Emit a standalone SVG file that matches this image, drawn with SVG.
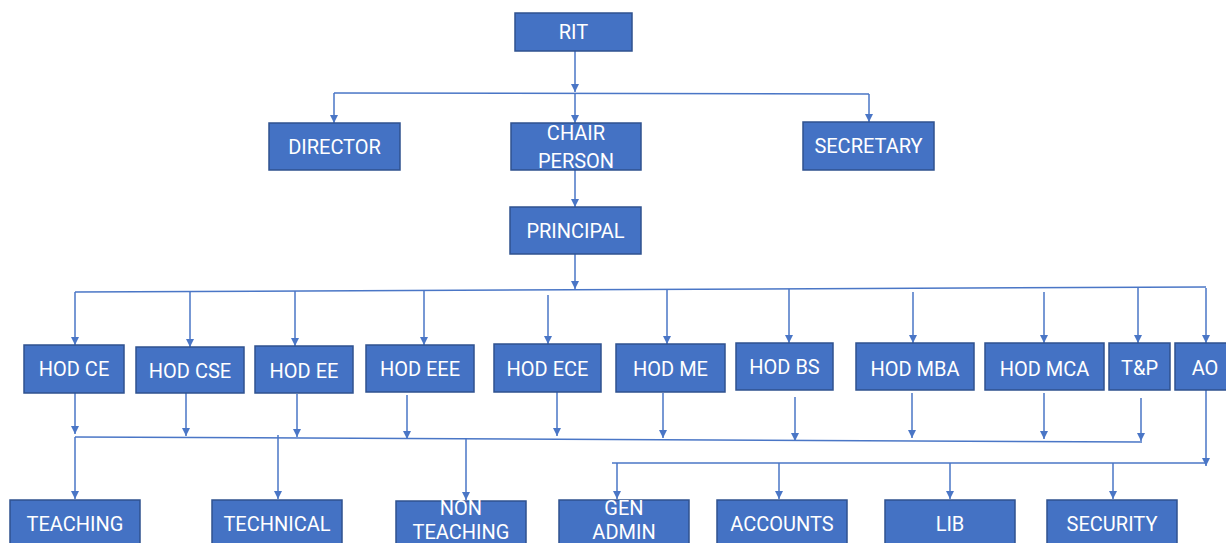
<svg xmlns="http://www.w3.org/2000/svg" width="1226" height="543" viewBox="0 0 1226 543">
<style>
.n rect{fill:#4472C4;stroke:#2F528F;stroke-width:1.5}
.n text{fill:#ffffff;font-family:Roboto,"Liberation Sans",Arial,sans-serif;font-size:20px;text-anchor:middle}
.c line{stroke:#4A76C6;stroke-width:1.5;fill:none}
.a{marker-end:url(#ah)}
</style>
<defs>
<marker id="ah" markerWidth="8" markerHeight="8" viewBox="0 0 8 8" refX="8" refY="4" orient="auto" markerUnits="userSpaceOnUse">
<path d="M0,0 L8,4 L0,8 z" fill="#4A76C6"/>
</marker>
</defs>
<g class="c" id="connectors">
<line class="a" x1="575" y1="51" x2="575" y2="92"/>
<line x1="334" y1="93" x2="869" y2="94"/>
<line class="a" x1="334" y1="93" x2="334" y2="123"/>
<line class="a" x1="575" y1="93" x2="575" y2="123"/>
<line class="a" x1="869" y1="94" x2="869" y2="122"/>
<line class="a" x1="575" y1="170" x2="575" y2="207"/>
<line class="a" x1="575" y1="254" x2="575" y2="289"/>
<line x1="75" y1="292" x2="1206" y2="287"/>
<line class="a" x1="75" y1="292" x2="75" y2="345"/>
<line class="a" x1="190" y1="292" x2="190" y2="347"/>
<line class="a" x1="295" y1="291" x2="295" y2="346"/>
<line class="a" x1="424" y1="291" x2="424" y2="345"/>
<line class="a" x1="548" y1="295" x2="548" y2="344"/>
<line class="a" x1="667" y1="290" x2="667" y2="344"/>
<line class="a" x1="789" y1="289" x2="789" y2="343"/>
<line class="a" x1="913" y1="292" x2="913" y2="343"/>
<line class="a" x1="1044" y1="292" x2="1044" y2="343"/>
<line class="a" x1="1138" y1="288" x2="1138" y2="343"/>
<line class="a" x1="1206" y1="288" x2="1206" y2="343"/>
<line class="a" x1="75" y1="393" x2="75" y2="434"/>
<line class="a" x1="186" y1="393" x2="186" y2="436"/>
<line class="a" x1="297" y1="394" x2="297" y2="437"/>
<line class="a" x1="407" y1="395" x2="407" y2="439"/>
<line class="a" x1="557" y1="392" x2="557" y2="436"/>
<line class="a" x1="663" y1="393" x2="663" y2="438"/>
<line class="a" x1="795" y1="397" x2="795" y2="441"/>
<line class="a" x1="912" y1="393" x2="912" y2="438"/>
<line class="a" x1="1044" y1="393" x2="1044" y2="439"/>
<line class="a" x1="1141" y1="398" x2="1141" y2="441"/>
<line x1="75" y1="437" x2="1142" y2="442"/>
<line class="a" x1="75" y1="437" x2="75" y2="499"/>
<line class="a" x1="278" y1="435" x2="278" y2="499"/>
<line class="a" x1="466" y1="438" x2="466" y2="500"/>
<line class="a" x1="1206" y1="390" x2="1206" y2="466"/>
<line x1="612" y1="463" x2="1206" y2="463"/>
<line class="a" x1="617" y1="463" x2="617" y2="499"/>
<line class="a" x1="779" y1="463" x2="779" y2="499"/>
<line class="a" x1="950" y1="463" x2="950" y2="499"/>
<line class="a" x1="1113" y1="463" x2="1113" y2="499"/>
</g>
<g class="n" id="rit"><rect x="515" y="13" width="117" height="38"/><text x="573.5" y="39">RIT</text></g>
<g class="n" id="director"><rect x="269" y="123" width="131" height="47"/><text x="334.5" y="154">DIRECTOR</text></g>
<g class="n" id="chairperson"><rect x="511" y="123" width="130" height="47"/><text x="576" y="140">CHAIR</text><text x="576" y="168">PERSON</text></g>
<g class="n" id="secretary"><rect x="803" y="122" width="131" height="48"/><text x="868.5" y="153">SECRETARY</text></g>
<g class="n" id="principal"><rect x="510" y="207" width="131" height="47"/><text x="575.5" y="238">PRINCIPAL</text></g>
<g class="n" id="hodce"><rect x="24" y="345" width="100" height="48"/><text x="74" y="376">HOD CE</text></g>
<g class="n" id="hodcse"><rect x="136" y="347" width="108" height="46"/><text x="190" y="378">HOD CSE</text></g>
<g class="n" id="hodee"><rect x="255" y="346" width="98" height="47"/><text x="304" y="378">HOD EE</text></g>
<g class="n" id="hodeee"><rect x="366" y="345" width="108" height="47"/><text x="420" y="376">HOD EEE</text></g>
<g class="n" id="hodece"><rect x="494" y="344" width="107" height="48"/><text x="547.5" y="376">HOD ECE</text></g>
<g class="n" id="hodme"><rect x="616" y="344" width="109" height="48"/><text x="670.5" y="376">HOD ME</text></g>
<g class="n" id="hodbs"><rect x="736" y="343" width="97" height="47"/><text x="784.5" y="374">HOD BS</text></g>
<g class="n" id="hodmba"><rect x="856" y="343" width="118" height="47"/><text x="915" y="376">HOD MBA</text></g>
<g class="n" id="hodmca"><rect x="985" y="343" width="119" height="47"/><text x="1044.5" y="376">HOD MCA</text></g>
<g class="n" id="tp"><rect x="1109" y="343" width="61" height="47"/><text x="1139.5" y="375">T&amp;P</text></g>
<g class="n" id="ao"><rect x="1175" y="343" width="60" height="47"/><text x="1205" y="375">AO</text></g>
<g class="n" id="teaching"><rect x="10" y="500" width="130" height="60"/><text x="75" y="531">TEACHING</text></g>
<g class="n" id="technical"><rect x="212" y="500" width="130" height="60"/><text x="277" y="531">TECHNICAL</text></g>
<g class="n" id="nonteaching"><rect x="396" y="501" width="130" height="60"/><text x="461" y="515">NON</text><text x="461" y="539">TEACHING</text></g>
<g class="n" id="genadmin"><rect x="559" y="500" width="130" height="60"/><text x="624" y="515">GEN</text><text x="624" y="539">ADMIN</text></g>
<g class="n" id="accounts"><rect x="717" y="500" width="130" height="60"/><text x="782" y="531">ACCOUNTS</text></g>
<g class="n" id="lib"><rect x="885" y="500" width="130" height="60"/><text x="950" y="531">LIB</text></g>
<g class="n" id="security"><rect x="1047" y="500" width="130" height="60"/><text x="1112" y="531">SECURITY</text></g>
</svg>
